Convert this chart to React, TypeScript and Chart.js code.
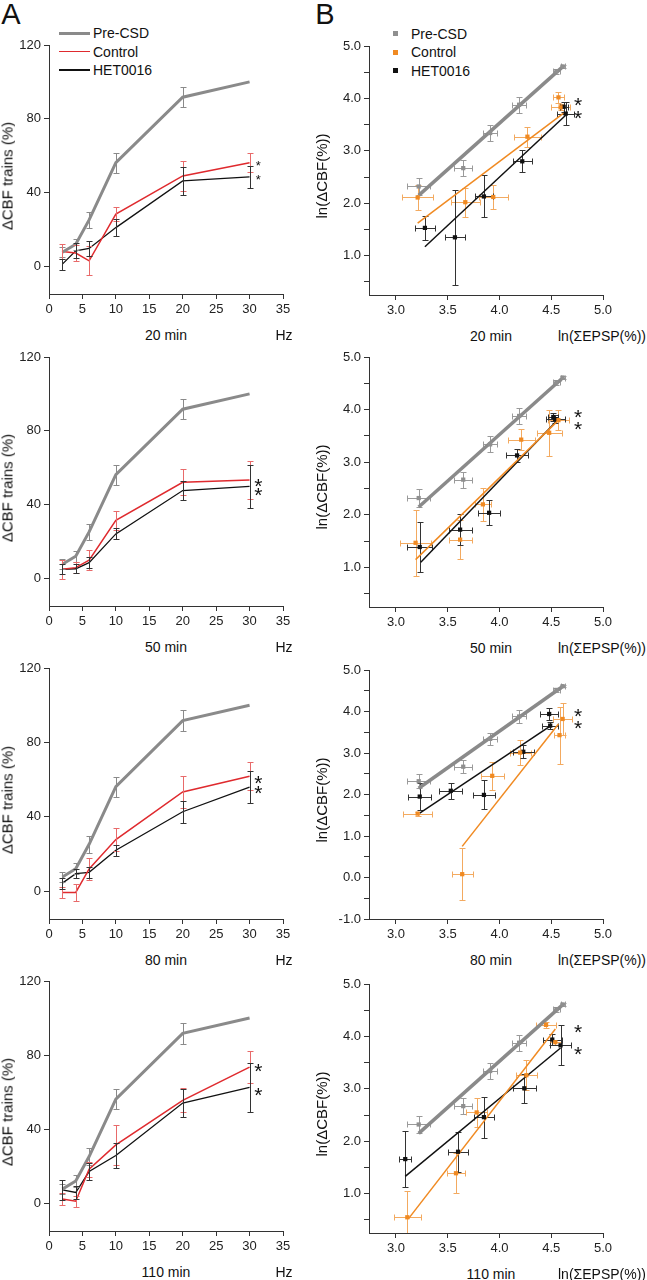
import React, { useEffect, useRef } from 'react';
import { Chart, registerables } from 'chart.js';

Chart.register(...registerables);

const FONT = '"Liberation Sans", Arial, Helvetica, sans-serif';

// ---------------- Panel A data: ΔCBF trains (%) vs frequency (Hz) ----------------
const freqHz = [2, 4, 6, 10, 20, 30];
const timeLabels = ['20 min', '50 min', '80 min', '110 min'];
const hzTicks = [0, 5, 10, 15, 20, 25, 30, 35];
const cbfTicks = [0, 40, 80, 120];

const preCsdCbf = [7.6, 12, 25.2, 56.2, 91.7, 100];
const preCsdCbfErr = [2.7, 3, 4.5, 5.4, 5.5, 0];

const controlCbf20 = [8.1, 7.2, 3.0, 28.3, 49, 56.2];
const controlCbfErr20 = [3.9, 4.5, 7.8, 3.6, 8.3, 5.2];
const hetCbf20 = [1.2, 8.4, 9.7, 21, 46.3, 48.5];
const hetCbfErr20 = [3, 4, 4, 4.5, 7.5, 5.9];

const controlCbf50 = [4.9, 5.8, 9.9, 31.4, 52.1, 53.3];
const controlCbfErr50 = [5, 3, 5.5, 5.2, 7, 10.4];
const hetCbf50 = [4.9, 5.2, 8.5, 24.1, 47.6, 49.9];
const hetCbfErr50 = [2.7, 2.5, 3, 3, 5.4, 11.5];

const controlCbf80 = [-0.7, -0.7, 11.9, 27.7, 53.3, 61.8];
const controlCbfErr80 = [3, 4.5, 5.8, 6.3, 8.4, 7.5];
const hetCbf80 = [4.3, 9.4, 10.1, 22, 42.7, 55.9];
const hetCbfErr80 = [3, 2.5, 3, 3, 6, 8.7];

const controlCbf110 = [2.3, 1.1, 18.4, 31.5, 55.5, 73.5];
const controlCbfErr110 = [3, 3, 4, 11, 6.5, 8.5];
const hetCbf110 = [7.2, 5.8, 17.1, 25.8, 54.1, 62.5];
const hetCbfErr110 = [5.4, 3.6, 4.7, 6.7, 7.4, 13.3];

const starsA = [[56.5, 48.5], [53, 48], [61, 55.5], [74, 61.5]];
const starAx = 31.3;

// ---------------- Panel B data: ln(ΔCBF(%)) vs ln(ΣEPSP(%)) ----------------
const epspTicks = [3, 3.5, 4, 4.5, 5];
const lnCbfTicks = [0.5, 1, 1.5, 2, 2.5, 3, 3.5, 4, 4.5, 5];
const lnCbfTicksWide = [-1, -0.5, 0, 0.5, 1, 1.5, 2, 2.5, 3, 3.5, 4, 4.5, 5];

const preEpsp = [3.22, 3.65, 3.91, 4.19, 4.55, 4.61];
const preLnCbf = [2.32, 2.67, 3.34, 3.88, 4.52, 4.61];
const preEpspErr = [0.11, 0.085, 0.07, 0.07, 0.03, 0.02];
const preLnCbfErr = [0.17, 0.15, 0.15, 0.15, 0.05, 0.03];
const preFitX = [3.22, 4.62];
const preFitY = [2.15, 4.62];

const ctrlEpsp20 = [3.21, 3.67, 3.94, 4.27, 4.57, 4.59];
const ctrlLn20 = [2.11, 2.02, 2.12, 3.27, 4.02, 3.83];
const ctrlEpspErr20 = [0.15, 0.14, 0.14, 0.13, 0.05, 0.09];
const ctrlLnErr20 = [0.23, 0.28, 0.23, 0.19, 0.1, 0.06];
const ctrlFitX20 = [3.21, 4.62];
const ctrlFitY20 = [1.62, 3.72];
const hetEpsp20 = [3.28, 3.57, 3.85, 4.22, 4.62, 4.64];
const hetLn20 = [1.53, 1.35, 2.13, 2.8, 3.84, 3.71];
const hetEpspErr20 = [0.1, 0.1, 0.09, 0.09, 0.04, 0.08];
const hetLnErr20 = [0.23, 0.9, 0.4, 0.21, 0.1, 0.22];
const hetFitX20 = [3.28, 4.64];
const hetFitY20 = [1.17, 3.68];

const ctrlEpsp50 = [3.19, 3.62, 3.84, 4.21, 4.48, 4.57];
const ctrlLn50 = [1.47, 1.53, 2.2, 3.43, 3.56, 3.8];
const ctrlEpspErr50 = [0.15, 0.11, 0.08, 0.13, 0.12, 0.1];
const ctrlLnErr50 = [0.63, 0.37, 0.31, 0.2, 0.44, 0.19];
const ctrlFitX50 = [3.19, 4.57];
const ctrlFitY50 = [1.15, 3.8];
const hetEpsp50 = [3.23, 3.62, 3.9, 4.17, 4.52, 4.54];
const hetLn50 = [1.39, 1.72, 2.04, 3.13, 3.86, 3.82];
const hetEpspErr50 = [0.12, 0.11, 0.11, 0.11, 0.05, 0.09];
const hetLnErr50 = [0.47, 0.29, 0.24, 0.12, 0.08, 0.07];
const hetFitX50 = [3.24, 4.55];
const hetFitY50 = [1.1, 3.78];

const ctrlEpsp80 = [3.21, 3.64, 3.93, 4.2, 4.58, 4.61];
const ctrlLn80 = [1.54, 0.08, 2.45, 3.01, 3.43, 3.82];
const ctrlEpspErr80 = [0.14, 0.1, 0.11, 0.1, 0.05, 0.09];
const ctrlLnErr80 = [0.05, 0.63, 0.34, 0.3, 0.69, 0.38];
const ctrlFitX80 = [3.64, 4.57];
const ctrlFitY80 = [0.75, 3.7];
const hetEpsp80 = [3.23, 3.53, 3.85, 4.23, 4.48, 4.49];
const hetLn80 = [1.95, 2.09, 1.99, 3.03, 3.94, 3.66];
const hetEpspErr80 = [0.11, 0.11, 0.11, 0.1, 0.09, 0.08];
const hetLnErr80 = [0.32, 0.19, 0.35, 0.16, 0.15, 0.08];
const hetFitX80 = [3.23, 4.49];
const hetFitY80 = [1.55, 3.65];

const ctrlEpsp110 = [3.11, 3.58, 3.78, 4.26, 4.45, 4.54];
const ctrlLn110 = [0.55, 1.39, 2.55, 3.26, 4.22, 3.89];
const ctrlEpspErr110 = [0.13, 0.09, 0.1, 0.1, 0.1, 0.05];
const ctrlLnErr110 = [0.5, 0.38, 0.27, 0.29, 0.06, 0.05];
const ctrlFitX110 = [3.12, 4.54];
const ctrlFitY110 = [0.52, 4.14];
const hetEpsp110 = [3.09, 3.6, 3.85, 4.24, 4.51, 4.59];
const hetLn110 = [1.66, 1.8, 2.46, 3.01, 3.94, 3.83];
const hetEpspErr110 = [0.06, 0.1, 0.1, 0.11, 0.09, 0.1];
const hetLnErr110 = [0.53, 0.38, 0.39, 0.28, 0.1, 0.38];
const hetFitX110 = [3.09, 4.59];
const hetFitY110 = [1.33, 3.78];

const starsB = [[3.97, 3.72], [3.95, 3.73], [4.02, 3.73], [4.19, 3.77]];
const starBx = 4.76;

// ---------------- assembled series ----------------
const controlA = [controlCbf20, controlCbf50, controlCbf80, controlCbf110];
const controlAErr = [controlCbfErr20, controlCbfErr50, controlCbfErr80, controlCbfErr110];
const hetA = [hetCbf20, hetCbf50, hetCbf80, hetCbf110];
const hetAErr = [hetCbfErr20, hetCbfErr50, hetCbfErr80, hetCbfErr110];

const ctrlB = [
  [ctrlEpsp20, ctrlLn20, ctrlEpspErr20, ctrlLnErr20, ctrlFitX20, ctrlFitY20],
  [ctrlEpsp50, ctrlLn50, ctrlEpspErr50, ctrlLnErr50, ctrlFitX50, ctrlFitY50],
  [ctrlEpsp80, ctrlLn80, ctrlEpspErr80, ctrlLnErr80, ctrlFitX80, ctrlFitY80],
  [ctrlEpsp110, ctrlLn110, ctrlEpspErr110, ctrlLnErr110, ctrlFitX110, ctrlFitY110],
];
const hetB = [
  [hetEpsp20, hetLn20, hetEpspErr20, hetLnErr20, hetFitX20, hetFitY20],
  [hetEpsp50, hetLn50, hetEpspErr50, hetLnErr50, hetFitX50, hetFitY50],
  [hetEpsp80, hetLn80, hetEpspErr80, hetLnErr80, hetFitX80, hetFitY80],
  [hetEpsp110, hetLn110, hetEpspErr110, hetLnErr110, hetFitX110, hetFitY110],
];
const lnCbfMin = [0.25, 0.25, -1, 0.25];
const lnCbfTickSets = [lnCbfTicks, lnCbfTicks, lnCbfTicksWide, lnCbfTicks];

// ---------------- styling / layout ----------------
const GRAY = '#8a8a8a';
const RED = '#df2a2e';
const ORANGE = '#f08a22';
const BLACK = '#111111';
const AXIS = '#333333';

const LEFT_TOPS = [45, 357, 668, 981];
const LEFT_BOTS = [294, 606, 919, 1231];
const RIGHT_TOPS = [46, 357, 670, 984];
const RIGHT_BOTS = [295, 607, 919, 1233];
const PAD_T = 14;
const XAX_H = 30;

const zip = (xs: number[], ys: number[]) => xs.map((x, i) => ({ x, y: ys[i] }));

const errorBarPlugin = {
  id: 'errorBars',
  draw(chart: any) {
    const { ctx, chartArea: a, scales } = chart;
    const xs = scales.x;
    const ys = scales.y;
    ctx.save();
    ctx.beginPath();
    ctx.rect(a.left, a.top - 2, a.right - a.left, a.bottom - a.top + 2);
    ctx.clip();
    ctx.lineWidth = 1;
    const cap = 3;
    chart.data.datasets.forEach((ds: any) => {
      const eb = ds.errorBars;
      if (!eb) return;
      ctx.strokeStyle = eb.color;
      ds.data.forEach((p: any, i: number) => {
        const px = Math.round(xs.getPixelForValue(p.x)) + 0.5;
        const py = Math.round(ys.getPixelForValue(p.y)) + 0.5;
        const ye = eb.y ? eb.y[i] : 0;
        const xe = eb.x ? eb.x[i] : 0;
        ctx.beginPath();
        if (ye) {
          const t = Math.round(ys.getPixelForValue(p.y + ye)) + 0.5;
          const b = Math.round(ys.getPixelForValue(p.y - ye)) + 0.5;
          ctx.moveTo(px, t); ctx.lineTo(px, b);
          ctx.moveTo(px - cap, t); ctx.lineTo(px + cap, t);
          ctx.moveTo(px - cap, b); ctx.lineTo(px + cap, b);
        }
        if (xe) {
          const l = Math.round(xs.getPixelForValue(p.x - xe)) + 0.5;
          const r = Math.round(xs.getPixelForValue(p.x + xe)) + 0.5;
          ctx.moveTo(l, py); ctx.lineTo(r, py);
          ctx.moveTo(l, py - cap); ctx.lineTo(l, py + cap);
          ctx.moveTo(r, py - cap); ctx.lineTo(r, py + cap);
        }
        ctx.stroke();
      });
    });
    ctx.restore();
  },
};

const errorsOnTop = {
  id: 'errorsOnTop',
  afterDatasetsDraw(chart: any) { errorBarPlugin.draw(chart); },
};
const errorsBehind = {
  id: 'errorsBehind',
  beforeDatasetsDraw(chart: any) { errorBarPlugin.draw(chart); },
};

const starPlugin = {
  id: 'stars',
  afterDraw(chart: any, _args: any, opts: any) {
    if (!opts || !opts.ys) return;
    const { ctx, scales } = chart;
    ctx.save();
    ctx.fillStyle = BLACK;
    ctx.font = `${opts.size}px ${FONT}`;
    ctx.textAlign = 'center';
    ctx.textBaseline = 'alphabetic';
    const px = scales.x.getPixelForValue(opts.x);
    opts.ys.forEach((v: number) => {
      const py = scales.y.getPixelForValue(v);
      ctx.fillText('*', px, py + opts.size * 0.58);
    });
    ctx.restore();
  },
};

const tickFont = { family: FONT, size: 13, weight: 'normal' };

function axisCommon(ticks: number[], fmt: (v: number) => string) {
  return {
    type: 'linear',
    afterBuildTicks: (s: any) => { s.ticks = ticks.map((v) => ({ value: v })); },
    grid: { drawOnChartArea: false, drawTicks: true, tickLength: 5, tickColor: AXIS, color: AXIS },
    border: { display: true, color: AXIS, width: 1 },
    ticks: { font: tickFont, color: '#222', padding: 3, maxRotation: 0, autoSkip: false, callback: (v: any) => fmt(Number(v)) },
  };
}

function configA(i: number) {
  return {
    type: 'line',
    data: {
      datasets: [
        { data: zip(freqHz, preCsdCbf), borderColor: GRAY, borderWidth: 3, pointRadius: 0, errorBars: { y: preCsdCbfErr, color: GRAY } },
        { data: zip(freqHz, controlA[i]), borderColor: RED, borderWidth: 1.5, pointRadius: 0, errorBars: { y: controlAErr[i], color: '#e86a6a' } },
        { data: zip(freqHz, hetA[i]), borderColor: BLACK, borderWidth: 1.3, pointRadius: 0, errorBars: { y: hetAErr[i], color: '#333' } },
      ],
    },
    options: {
      animation: false,
      responsive: false,
      devicePixelRatio: 1,
      layout: { padding: { top: PAD_T, right: 17, left: 0, bottom: 0 } },
      plugins: {
        legend: { display: false },
        tooltip: { enabled: false },
        stars: { x: starAx, ys: starsA[i], size: i === 0 ? 13 : 21 },
      },
      scales: {
        x: { ...axisCommon(hzTicks, (v) => String(v)), min: 0, max: 35, afterFit: (s: any) => { s.height = XAX_H; } },
        y: { ...axisCommon(cbfTicks, (v) => String(v)), min: -15, max: 120, afterFit: (s: any) => { s.width = 49; } },
      },
    },
    plugins: [errorsOnTop, starPlugin],
  };
}

function configB(i: number) {
  const c = ctrlB[i];
  const h = hetB[i];
  return {
    type: 'scatter',
    data: {
      datasets: [
        { data: zip(preEpsp, preLnCbf), backgroundColor: '#8f8f8f', pointStyle: 'rect', pointRadius: 3, borderWidth: 0, order: 1, errorBars: { x: preEpspErr, y: preLnCbfErr, color: '#9a9a9a' } },
        { data: zip(c[0], c[1]), backgroundColor: ORANGE, pointStyle: 'rect', pointRadius: 3, borderWidth: 0, order: 1, errorBars: { x: c[2], y: c[3], color: '#f3aa60' } },
        { data: zip(h[0], h[1]), backgroundColor: BLACK, pointStyle: 'rect', pointRadius: 3, borderWidth: 0, order: 1, errorBars: { x: h[2], y: h[3], color: '#333' } },
        { data: zip(preFitX, preFitY), showLine: true, borderColor: GRAY, borderWidth: 3.5, pointRadius: 0, order: 3 },
        { data: zip(c[4], c[5]), showLine: true, borderColor: ORANGE, borderWidth: 1.5, pointRadius: 0, order: 2 },
        { data: zip(h[4], h[5]), showLine: true, borderColor: BLACK, borderWidth: 1.5, pointRadius: 0, order: 2 },
      ],
    },
    options: {
      animation: false,
      responsive: false,
      devicePixelRatio: 1,
      layout: { padding: { top: PAD_T, right: 44, left: 0, bottom: 0 } },
      plugins: {
        legend: { display: false },
        tooltip: { enabled: false },
        stars: { x: starBx, ys: starsB[i], size: 21 },
      },
      scales: {
        x: { ...axisCommon(epspTicks, (v) => v.toFixed(1)), min: 2.74, max: 5, afterFit: (s: any) => { s.height = XAX_H; } },
        y: {
          ...axisCommon(lnCbfTickSets[i], (v) => (Number.isInteger(v) ? v.toFixed(1) : '')),
          min: lnCbfMin[i], max: 5,
          afterFit: (s: any) => { s.width = 56; },
        },
      },
    },
    plugins: [errorsBehind, starPlugin],
  };
}

function ChartBox({ make, left, top, width, height }: any) {
  const ref = useRef<HTMLCanvasElement>(null);
  useEffect(() => {
    const chart = new Chart(ref.current as HTMLCanvasElement, make() as any);
    return () => chart.destroy();
  }, []);
  return (
    <canvas
      ref={ref}
      width={width}
      height={height}
      style={{ position: 'absolute', left, top, width, height, display: 'block' }}
    />
  );
}

const txt = (x: number, y: number, size: number, extra: any = {}) => ({
  position: 'absolute' as const,
  left: x,
  top: y,
  fontFamily: FONT,
  fontSize: size,
  fontWeight: 400,
  lineHeight: 1,
  whiteSpace: 'nowrap' as const,
  color: '#111',
  transform: 'translate(-50%, -50%)',
  ...extra,
});

export default function App() {
  const legendA = [
    { label: 'Pre-CSD', color: GRAY, h: 3, y: 33 },
    { label: 'Control', color: RED, h: 1.5, y: 51.5 },
    { label: 'HET0016', color: BLACK, h: 1.5, y: 70 },
  ];
  const legendB = [
    { label: 'Pre-CSD', color: '#8f8f8f', y: 33.5 },
    { label: 'Control', color: ORANGE, y: 52 },
    { label: 'HET0016', color: BLACK, y: 70.5 },
  ];
  return (
    <div style={{ position: 'absolute', left: 0, top: 0, width: 647, height: 1280, background: '#fff', overflow: 'hidden' }}>
      <div style={txt(11, 14, 29)}>A</div>
      <div style={txt(325, 14, 29)}>B</div>

      {legendA.map((l) => (
        <React.Fragment key={'la' + l.label}>
          <div style={{ position: 'absolute', left: 59, width: 31, top: l.y - l.h / 2, height: l.h, background: l.color }} />
          <div style={txt(93, l.y, 14, { transform: 'translate(0, -50%)' })}>{l.label}</div>
        </React.Fragment>
      ))}
      {legendB.map((l) => (
        <React.Fragment key={'lb' + l.label}>
          <div style={{ position: 'absolute', left: 392.5, width: 5, top: l.y - 2.5, height: 5, background: l.color }} />
          <div style={txt(411, l.y, 14, { transform: 'translate(0, -50%)' })}>{l.label}</div>
        </React.Fragment>
      ))}

      {timeLabels.map((t, i) => {
        const lt = LEFT_TOPS[i];
        const lb = LEFT_BOTS[i];
        const rt = RIGHT_TOPS[i];
        const rb = RIGHT_BOTS[i];
        return (
          <React.Fragment key={t}>
            <ChartBox
              make={() => configA(i)}
              left={0}
              top={lt - PAD_T}
              width={300}
              height={lb - lt + PAD_T + XAX_H}
            />
            <ChartBox
              make={() => configB(i)}
              left={313}
              top={rt - PAD_T}
              width={334}
              height={rb - rt + PAD_T + XAX_H}
            />
            <div style={txt(7, (lt + lb) / 2 + 6, 15, { transform: 'translate(-50%, -50%) rotate(-90deg)' })}>ΔCBF trains (%)</div>
            <div style={txt(320.5, (rt + rb) / 2 + 5, 15, { transform: 'translate(-50%, -50%) rotate(-90deg)' })}>ln(ΔCBF(%))</div>
            <div style={txt(166, lb + 41, 14)}>{t}</div>
            <div style={txt(284, lb + 41, 14)}>Hz</div>
            <div style={txt(491, rb + 40.5, 14)}>{t}</div>
            <div style={txt(646, rb + 40.5, 14, { transform: 'translate(-100%, -50%)' })}>ln(ΣEPSP(%))</div>
          </React.Fragment>
        );
      })}
    </div>
  );
}
